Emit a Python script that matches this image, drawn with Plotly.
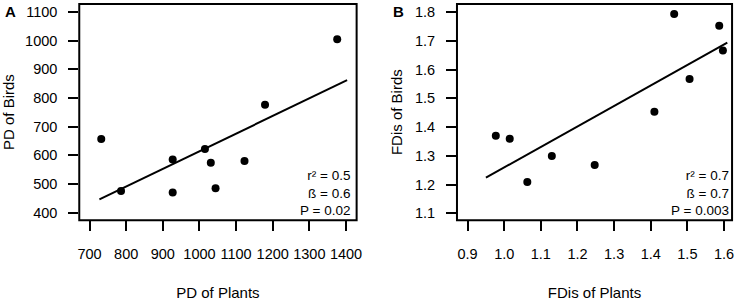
import plotly.graph_objects as go

# Panel A data
pd_plants = [732, 786, 927, 927, 1015, 1031, 1044, 1123, 1179, 1376]
pd_birds = [657, 475, 585, 470, 622, 574, 485, 580, 776, 1005]
fit_a_x = [727, 1403]
fit_a_y = [446, 862]

# Panel B data
fd_plants = [0.977, 1.015, 1.063, 1.130, 1.247, 1.410, 1.464, 1.506, 1.587, 1.597]
fd_birds = [1.370, 1.359, 1.209, 1.299, 1.268, 1.453, 1.793, 1.567, 1.752, 1.666]
fit_b_x = [0.950, 1.609]
fit_b_y = [1.224, 1.694]

xticks_a = [700, 800, 900, 1000, 1100, 1200, 1300, 1400]
yticks_a = [400, 500, 600, 700, 800, 900, 1000, 1100]
xticks_b = [0.9, 1.0, 1.1, 1.2, 1.3, 1.4, 1.5, 1.6]
yticks_b = [1.1, 1.2, 1.3, 1.4, 1.5, 1.6, 1.7, 1.8]
xtext_b = ["0.9", "1.0", "1.1", "1.2", "1.3", "1.4", "1.5", "1.6"]
ytext_b = ["1.1", "1.2", "1.3", "1.4", "1.5", "1.6", "1.7", "1.8"]

stats_a = ["r² = 0.5", "ß = 0.6", "P = 0.02"]
stats_b = ["r² = 0.7", "ß = 0.7", "P = 0.003"]

FONT = "Liberation Sans, Arial, sans-serif"

fig = go.Figure()
fig.add_trace(go.Scatter(x=pd_plants, y=pd_birds, mode="markers",
                         marker=dict(color="black", size=8), xaxis="x", yaxis="y"))
fig.add_trace(go.Scatter(x=fit_a_x, y=fit_a_y, mode="lines",
                         line=dict(color="black", width=2), xaxis="x", yaxis="y"))
fig.add_trace(go.Scatter(x=fd_plants, y=fd_birds, mode="markers",
                         marker=dict(color="black", size=8), xaxis="x2", yaxis="y2"))
fig.add_trace(go.Scatter(x=fit_b_x, y=fit_b_y, mode="lines",
                         line=dict(color="black", width=2), xaxis="x2", yaxis="y2"))

ydom = [1 - 221 / 302, 1 - 4 / 302]
axis_common = dict(showgrid=False, zeroline=False, showline=False,
                   ticks="outside", ticklen=10, tickwidth=1.5, tickcolor="black",
                   tickfont=dict(family=FONT, size=14.5, color="black"))

fig.update_layout(
    width=743, height=302, margin=dict(l=0, r=0, t=0, b=0),
    paper_bgcolor="white", plot_bgcolor="white", showlegend=False,
    font=dict(family=FONT, color="black"),
    xaxis=dict(domain=[78 / 743, 358 / 743], range=[672, 1429],
               tickvals=xticks_a, ticklabelstandoff=10,
               title=dict(text="PD of Plants", font=dict(size=15), standoff=26),
               anchor="y", **axis_common),
    yaxis=dict(domain=ydom, range=[373, 1128], tickvals=yticks_a,
               ticklabelstandoff=8,
               title=dict(text="PD of Birds", font=dict(size=15), standoff=8),
               anchor="x", **axis_common),
    xaxis2=dict(domain=[459.3 / 743, 737 / 743], range=[0.871, 1.622],
                tickvals=xticks_b, ticktext=xtext_b, ticklabelstandoff=10,
                title=dict(text="FDis of Plants", font=dict(size=15), standoff=26),
                anchor="y2", **axis_common),
    yaxis2=dict(domain=ydom, range=[1.0757, 1.828], tickvals=yticks_b,
                ticktext=ytext_b, ticklabelstandoff=8,
                title=dict(text="FDis of Birds", font=dict(size=15), standoff=8),
                anchor="x2", **axis_common),
)

# boxes
for xr in ["x domain", "x2 domain"]:
    yr = "y domain" if xr == "x domain" else "y2 domain"
    fig.add_shape(type="rect", xref=xr, yref=yr, x0=0, x1=1, y0=0, y1=1,
                  line=dict(color="black", width=2), layer="above")

# panel letters
fig.add_annotation(text="<b>A</b>", xref="paper", yref="paper", x=9 / 743, y=1 - 12 / 302,
                   showarrow=False, font=dict(size=15, family=FONT), xanchor="center", yanchor="middle")
fig.add_annotation(text="<b>B</b>", xref="paper", yref="paper", x=400 / 743, y=1 - 12 / 302,
                   showarrow=False, font=dict(size=15, family=FONT), xanchor="center", yanchor="middle")

# stats text
for stats, xr, yr, xp in [(stats_a, "x domain", "y domain", 0.982),
                          (stats_b, "x2 domain", "y2 domain", 0.995)]:
    fig.add_annotation(text="<br>".join(stats), xref=xr, yref=yr, x=xp, y=0.0,
                       showarrow=False, align="right", xanchor="right", yanchor="bottom",
                       font=dict(size=13.5, family=FONT))

fig.write_html("out.html", config={"displayModeBar": False},
               post_script="document.body.style.margin='0';")
